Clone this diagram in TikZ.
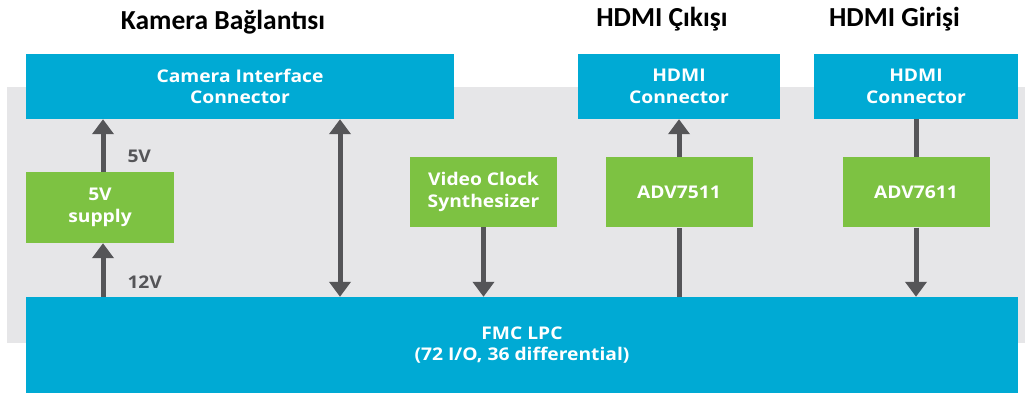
\documentclass[tikz,border=0pt]{standalone}
\usepackage{fontspec}
\setmainfont{Open Sans}[FakeStretch=1.1]
\newfontfamily\titlefont{Carlito}
\usepackage{tikz}
\usetikzlibrary{arrows.meta,positioning}

\definecolor{fmcblue}{RGB}{0,170,212}
\definecolor{chipgreen}{RGB}{125,194,66}
\definecolor{boardgray}{RGB}{230,230,232}
\definecolor{wiregray}{RGB}{85,85,88}

\begin{document}
\begin{tikzpicture}[x=1pt, y=-1pt,
          blk/.style = {inner sep=0pt, align=center, text=white,
                        font=\fontsize{17.5}{21.5}\selectfont\bfseries},
          conn/.style = {blk, fill=fmcblue, minimum height=65pt},
          chip/.style = {blk, fill=chipgreen, minimum width=147pt, minimum height=70pt},
          title/.style = {font=\titlefont\fontsize{27.5}{30}\selectfont\bfseries, inner sep=0pt, anchor=base},
          lbl/.style = {text=wiregray, inner sep=0pt, font=\fontsize{17.5}{19}\selectfont\bfseries},
          wire/.style = {draw=wiregray, line width=5pt},
          arr/.style = {wire, -{Triangle[width=21pt,length=15pt]}}]
        \useasboundingbox (0,0) rectangle (1025,397);
        \fill[boardgray] (7,87) rectangle (1025,343);
        % connectors on top
        \node[conn, minimum width=428pt] (cam) at (240,86.5) {Camera Interface\\Connector};
        \node[conn, minimum width=202pt] (hdmio) at (679,86.5) {HDMI\\Connector};
        \node[conn, minimum width=204pt] (hdmii) at (916,86.5) {HDMI\\Connector};
        \node[title] (tcam) at (223,29) {Kamera Bağlantısı};
        \node[title] (thdmio) at (662,26) {HDMI Çıkışı};
        \node[title] (thdmii) at (894.5,26) {HDMI Girişi};
        % chips
        \node[chip, minimum width=148pt, minimum height=71pt] (sup) at (100,207.5) {5V\\supply};
        \node[chip] (clk) at (483.5,192) {Video Clock\\Synthesizer};
        \node[chip] (tx) [below=38pt of hdmio] {ADV7511};
        \node[chip] (rx) [below=38pt of hdmii] {ADV7611};
        \node[conn, minimum width=992pt, minimum height=96pt] (fmc) at (522,345) {FMC LPC\\(72 I/O, 36 differential)};
        \coordinate (bus) at (340,0);
        % wires
        \draw[arr] ([xshift=3pt]sup.north) -- node[lbl, pos=.3, right=22pt] {5V} ([xshift=3pt]sup.north |- cam.south);
        \draw[arr] ([xshift=3pt]sup.north |- fmc.north) -- node[lbl, pos=.27, right=22pt] {12V} ([xshift=3pt]sup.south);
        \draw[arr, {Triangle[width=21pt,length=15pt]}-{Triangle[width=21pt,length=15pt]}] (bus |- cam.south) -- (bus |- fmc.north);
        \draw[arr] (clk) -- (clk |- fmc.north);
        \draw[wire] (tx |- fmc.north) -- (tx);
        \draw[arr] (tx) -- (hdmio);
        \draw[wire] (hdmii) -- (rx);
        \draw[arr] (rx) -- (rx |- fmc.north);
      \end{tikzpicture}
\end{document}
